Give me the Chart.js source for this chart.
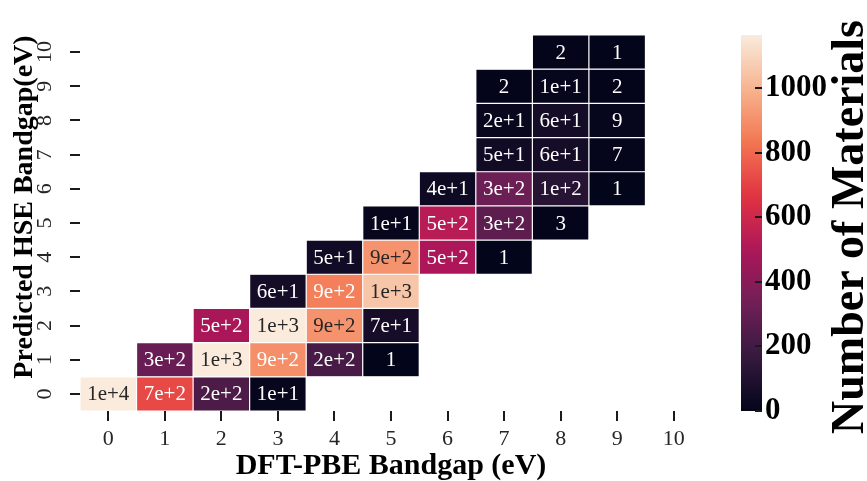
<!DOCTYPE html>
<html>
<head>
<meta charset="utf-8">
<title>Predicted HSE vs DFT-PBE bandgap</title>
<script src="https://cdn.jsdelivr.net/npm/chart.js@4/dist/chart.umd.min.js"></script>
<style>
  html, body { margin: 0; padding: 0; background: #ffffff; }
  #wrap { width: 867px; height: 481px; }
</style>
</head>
<body>
<div id="wrap"><canvas id="heat" width="867" height="481"></canvas></div>
<script>
// ---- data -------------------------------------------------------------
const pbeLabels = ['0', '1', '2', '3', '4', '5', '6', '7', '8', '9', '10'];
const hseTicks = [0, 1, 2, 3, 4, 5, 6, 7, 8, 9, 10];
const colorbarTicks = [0, 200, 400, 600, 800, 1000];

// number of materials per predicted-HSE row, indexed by DFT-PBE bin (null = empty cell)
const hse0  = [10000, 720, 230, 10, null, null, null, null, null, null, null];
const hse1  = [null, 310, 1200, 900, 220, 1, null, null, null, null, null];
const hse2  = [null, null, 490, 1250, 910, 70, null, null, null, null, null];
const hse3  = [null, null, null, 60, 860, 1050, null, null, null, null, null];
const hse4  = [null, null, null, null, 50, 910, 500, 1, null, null, null];
const hse5  = [null, null, null, null, null, 10, 530, 280, 3, null, null];
const hse6  = [null, null, null, null, null, null, 40, 320, 120, 1, null];
const hse7  = [null, null, null, null, null, null, null, 50, 60, 7, null];
const hse8  = [null, null, null, null, null, null, null, 20, 60, 9, null];
const hse9  = [null, null, null, null, null, null, null, 2, 10, 2, null];
const hse10 = [null, null, null, null, null, null, null, null, 2, 1, null];
const countRows = [hse0, hse1, hse2, hse3, hse4, hse5, hse6, hse7, hse8, hse9, hse10];

const colorMax = 1165;

// ---- colour map (rocket) ------------------------------------------------
const SERIF = '"Liberation Serif", "Times New Roman", serif';
const rocketStops = [
  [0 / 7, [3, 5, 26]],
  [1 / 7, [53, 25, 62]],
  [2 / 7, [112, 31, 87]],
  [3 / 7, [173, 23, 89]],
  [4 / 7, [225, 51, 66]],
  [5 / 7, [243, 118, 81]],
  [6 / 7, [246, 180, 143]],
  [7 / 7, [250, 235, 221]]
];
function rocketRGB(t) {
  t = Math.max(0, Math.min(1, t));
  for (let i = 1; i < rocketStops.length; i++) {
    const [p1, c1] = rocketStops[i];
    const [p0, c0] = rocketStops[i - 1];
    if (t <= p1) {
      const f = (t - p0) / (p1 - p0);
      return c0.map((c, k) => Math.round(c + (c1[k] - c) * f));
    }
  }
  return rocketStops[rocketStops.length - 1][1];
}
function cssRGB(rgb) { return 'rgb(' + rgb.join(',') + ')'; }
function cellColor(v) { return cssRGB(rocketRGB(v / colorMax)); }
function luminance(rgb) {
  const lin = rgb.map(c => { c /= 255; return c <= 0.03928 ? c / 12.92 : Math.pow((c + 0.055) / 1.055, 2.4); });
  return 0.2126 * lin[0] + 0.7152 * lin[1] + 0.0722 * lin[2];
}
function cellText(v) { return v < 10 ? String(v) : v.toExponential(0); }

// ---- datasets: one floating-bar row per predicted-HSE bin ---------------
const datasets = countRows.map((row, h) => ({
  label: 'HSE ' + h,
  data: row.map(v => (v == null ? null : [h - 0.5, h + 0.5])),
  backgroundColor: row.map(v => (v == null ? 'rgba(0,0,0,0)' : cellColor(v))),
  borderColor: '#ffffff',
  borderWidth: 0.6,
  borderSkipped: false,
  grouped: false,
  barPercentage: 1,
  categoryPercentage: 1,
  inflateAmount: 0
}));

// ---- plugins ------------------------------------------------------------
const cellLabels = {
  id: 'cellLabels',
  afterDatasetsDraw(chart) {
    const { ctx, scales: { x, y } } = chart;
    ctx.save();
    ctx.font = '21px ' + SERIF;
    ctx.textAlign = 'center';
    ctx.textBaseline = 'middle';
    countRows.forEach((row, h) => {
      row.forEach((v, i) => {
        if (v == null) return;
        const rgb = rocketRGB(v / colorMax);
        ctx.fillStyle = luminance(rgb) > 0.408 ? '#262626' : '#ffffff';
        ctx.fillText(cellText(v), x.getPixelForValue(i), y.getPixelForValue(h) + 1);
      });
    });
    ctx.restore();
  }
};

const sideText = {
  id: 'sideText',
  afterDraw(chart) {
    const { ctx, scales: { y, cb } } = chart;
    ctx.save();
    // rotated tick labels on the HSE axis
    ctx.fillStyle = '#262626';
    ctx.font = '22px ' + SERIF;
    ctx.textAlign = 'center';
    ctx.textBaseline = 'middle';
    y.ticks.forEach(t => {
      ctx.save();
      ctx.translate(45, y.getPixelForValue(t.value));
      ctx.rotate(-Math.PI / 2);
      ctx.fillText(String(t.value), 0, 0);
      ctx.restore();
    });
    // HSE axis title
    ctx.fillStyle = '#000000';
    ctx.font = 'bold 28px ' + SERIF;
    ctx.save();
    ctx.translate(25, 207);
    ctx.rotate(-Math.PI / 2);
    ctx.fillText('Predicted HSE Bandgap(eV)', 0, 0);
    ctx.restore();

    // colour bar
    const x0 = cb.left + 39;
    const w = 21;
    const yTop = cb.getPixelForValue(colorMax);
    const yBot = cb.getPixelForValue(0);
    const grad = ctx.createLinearGradient(0, yBot, 0, yTop);
    for (let k = 0; k <= 32; k++) {
      grad.addColorStop(k / 32, cssRGB(rocketRGB(k / 32)));
    }
    ctx.fillStyle = grad;
    ctx.fillRect(x0, yTop, w, yBot - yTop);
    ctx.strokeStyle = '#1a1a1a';
    ctx.lineWidth = 2;
    cb.ticks.forEach(t => {
      const py = Math.round(cb.getPixelForValue(t.value));
      ctx.beginPath();
      ctx.moveTo(x0 + w - 7, py);
      ctx.lineTo(x0 + w, py);
      ctx.stroke();
    });
    // colour bar title
    ctx.fillStyle = '#000000';
    ctx.font = 'bold 46px ' + SERIF;
    ctx.textAlign = 'center';
    ctx.textBaseline = 'alphabetic';
    ctx.save();
    ctx.translate(863, 227);
    ctx.rotate(-Math.PI / 2);
    ctx.fillText('Number of Materials', 0, 0);
    ctx.restore();
    ctx.restore();
  }
};

// ---- chart --------------------------------------------------------------
new Chart(document.getElementById('heat'), {
  type: 'bar',
  data: { labels: pbeLabels, datasets },
  options: {
    responsive: false,
    animation: false,
    layout: { padding: { top: 35, left: 0, right: 0, bottom: 0 } },
    plugins: { legend: { display: false }, tooltip: { enabled: false } },
    scales: {
      x: {
        type: 'category',
        position: 'bottom',
        offset: true,
        grid: { offset: false, drawOnChartArea: false, drawTicks: true, tickLength: 10, lineWidth: 2, color: '#1a1a1a' },
        border: { display: false },
        ticks: { font: { family: SERIF, size: 22 }, color: '#262626', padding: 5, maxRotation: 0, autoSkip: false },
        title: {
          display: true,
          text: 'DFT-PBE Bandgap (eV)',
          color: '#000000',
          font: { family: SERIF, size: 30, weight: 'bold', lineHeight: 1 },
          padding: { top: 0, bottom: 0 }
        },
        afterFit(s) { s.height = 70; s.paddingLeft = 0; s.paddingRight = 0; }
      },
      y: {
        type: 'linear',
        position: 'left',
        min: -0.5,
        max: 10.5,
        afterBuildTicks(s) { s.ticks = hseTicks.map(v => ({ value: v })); },
        grid: { drawOnChartArea: false, drawTicks: true, tickLength: 10, lineWidth: 2, color: '#1a1a1a' },
        border: { display: false },
        ticks: { display: false },
        afterFit(s) { s.width = 80; s.paddingTop = 0; s.paddingBottom = 0; }
      },
      cb: {
        type: 'linear',
        position: 'right',
        min: 0,
        max: colorMax,
        afterBuildTicks(s) { s.ticks = colorbarTicks.map(v => ({ value: v })); },
        grid: { display: false, drawTicks: false },
        border: { display: false },
        ticks: {
          font: { family: SERIF, size: 31, weight: 'bold' },
          color: '#000000',
          padding: 63,
          callback: v => String(v)
        },
        afterFit(s) { s.width = 165; s.paddingTop = 0; s.paddingBottom = 0; }
      }
    }
  },
  plugins: [cellLabels, sideText]
});
</script>
</body>
</html>
